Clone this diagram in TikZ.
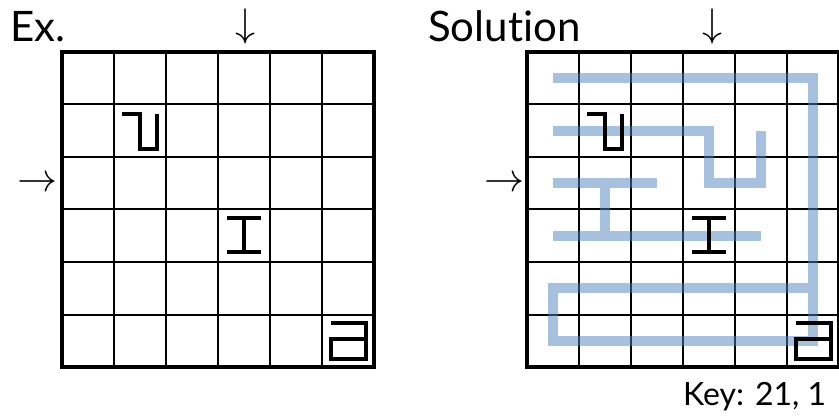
\documentclass[tikz,border=0pt]{standalone}
\usepackage{fontspec}
\setmainfont{Lato}[Ligatures={NoCommon,NoRare}]
\usepackage{graphicx}
\usetikzlibrary{positioning}
\definecolor{routeblue}{RGB}{79,129,189}
\tikzset{%
  % Specifications for style of lines and nodes:
  cellline/.style = {line width=2pt, draw=black},
  frame/.style = {line width=3.5pt, draw=black},
  glyph/.style = {line width=4pt, draw=black, miter limit=4},
  route/.style = {line width=10pt, draw=routeblue, draw opacity=0.5},
  title/.style = {inner sep=0pt, anchor=base west,
    font=\fontsize{42}{42}\selectfont},
  keytext/.style = {inner sep=0pt, anchor=base west,
    font=\fontsize{32}{32}\selectfont},
  pointer/.style = {inner sep=0pt},
}

\begin{document}
\begin{tikzpicture}[x=1pt, y=-1pt]
  \useasboundingbox (0,0) rectangle (839,417);
  % Grids with their cell centres
  \foreach \ox/\nm in {62/L, 527/R}{
    \foreach \i in {1,...,5}{
      \draw[cellline] (\ox+\i*52,52) -- (\ox+\i*52,367);
      \draw[cellline] (\ox,52+\i*52.5) -- (\ox+312,52+\i*52.5);
    }
    \draw[frame] (\ox,52) rectangle (\ox+312,367);
    \foreach \c in {0,...,5}
      \foreach \r in {0,...,5}
        \coordinate (\nm\c\r) at (\ox+26+\c*52, 78.25+\r*52.5);
  }
  % Route of the solution
  \draw[route] (R00) -- (R50) -- (R55) -- (R05) -- (R04) -- (R54)
    (R01) -- (R31) -- (R32) -- (R42) -- (R41)
    (R02) -- (R22) (R12) -- (R13)
    (R03) -- (R43);
  % Glyphs in the cells
  \foreach \nm in {L, R}{
    \draw[glyph, shift={(\nm11)}] (-18,-17) -- (0,-17) -- (0,18) -- (17,18) -- (17,-17);
    \draw[glyph, shift={(\nm33)}] (-17,-18) -- (17,-18) (0,-18) -- (0,16) (-17,16) -- (17,16);
    \draw[glyph, shift={(\nm55)}] (-17,-18) -- (18,-18) -- (18,18) -- (-17,18) -- (-17,-1.5) -- (18,-1.5);
  }
  % Titles and entry pointers
  \node (ex) [title] at (10,42) {Ex.};
  \node (sol) [title] at (428,42) {Solution};
  \node (key) [keytext] at (683,405) {Key: 21, 1};
  \node (downL) [pointer] at (245,27) {\scalebox{4}{$\downarrow$}};
  \node (rightL) [pointer] at (37.5,184) {\scalebox{4}{$\rightarrow$}};
  \node (downR) [pointer] at (712,27) {\scalebox{4}{$\downarrow$}};
  \node (rightR) [pointer] at (504,184) {\scalebox{4}{$\rightarrow$}};
\end{tikzpicture}
\end{document}
